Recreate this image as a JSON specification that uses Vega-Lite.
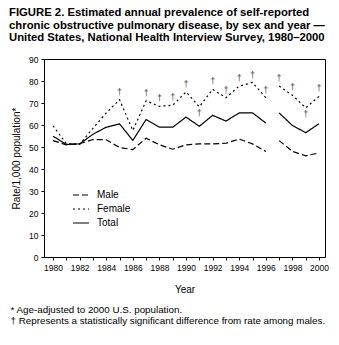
{
  "$schema": "https://vega.github.io/schema/vega-lite/v6.json",
  "background": "white",
  "padding": {"left": 9, "top": 7, "right": 5, "bottom": 5},
  "config": {
    "font": "Liberation Sans",
    "view": {"stroke": "black", "strokeWidth": 1},
    "axis": {"grid": false, "domainColor": "black", "tickColor": "black", "labelColor": "black", "titleColor": "black", "labelFont": "Liberation Sans", "titleFont": "Liberation Sans"}
  },
  "title": {
    "text": ["FIGURE 2. Estimated annual prevalence of self-reported", "chronic obstructive pulmonary disease, by sex and year —", "United States, National Health Interview Survey, 1980–2000"],
    "anchor": "start",
    "frame": "bounds",
    "fontSize": 11.3,
    "fontWeight": "bold",
    "lineHeight": 12.5,
    "font": "Liberation Sans",
    "color": "black",
    "dx": -1,
    "offset": 11
  },
  "datasets": {
    "rates": [
      {"year": 1980, "sex": "Male", "rate": 52.9, "period": "a"},
      {"year": 1981, "sex": "Male", "rate": 51.0, "period": "a"},
      {"year": 1982, "sex": "Male", "rate": 51.5, "period": "a"},
      {"year": 1983, "sex": "Male", "rate": 53.4, "period": "a"},
      {"year": 1984, "sex": "Male", "rate": 53.3, "period": "a"},
      {"year": 1985, "sex": "Male", "rate": 49.8, "period": "a"},
      {"year": 1986, "sex": "Male", "rate": 48.8, "period": "a"},
      {"year": 1987, "sex": "Male", "rate": 54.0, "period": "a"},
      {"year": 1988, "sex": "Male", "rate": 51.0, "period": "a"},
      {"year": 1989, "sex": "Male", "rate": 49.0, "period": "a"},
      {"year": 1990, "sex": "Male", "rate": 51.0, "period": "a"},
      {"year": 1991, "sex": "Male", "rate": 51.4, "period": "a"},
      {"year": 1992, "sex": "Male", "rate": 51.4, "period": "a"},
      {"year": 1993, "sex": "Male", "rate": 51.7, "period": "a"},
      {"year": 1994, "sex": "Male", "rate": 53.6, "period": "a"},
      {"year": 1995, "sex": "Male", "rate": 51.4, "period": "a"},
      {"year": 1996, "sex": "Male", "rate": 48.0, "period": "a"},
      {"year": 1997, "sex": "Male", "rate": 52.9, "period": "b"},
      {"year": 1998, "sex": "Male", "rate": 48.0, "period": "b"},
      {"year": 1999, "sex": "Male", "rate": 46.0, "period": "b"},
      {"year": 2000, "sex": "Male", "rate": 47.3, "period": "b"},
      {"year": 1980, "sex": "Female", "rate": 59.6, "period": "a", "sig": "no"},
      {"year": 1981, "sex": "Female", "rate": 51.5, "period": "a", "sig": "no"},
      {"year": 1982, "sex": "Female", "rate": 51.2, "period": "a", "sig": "no"},
      {"year": 1983, "sex": "Female", "rate": 58.5, "period": "a", "sig": "no"},
      {"year": 1984, "sex": "Female", "rate": 65.5, "period": "a", "sig": "no"},
      {"year": 1985, "sex": "Female", "rate": 71.5, "period": "a", "sig": "above"},
      {"year": 1986, "sex": "Female", "rate": 57.5, "period": "a", "sig": "no"},
      {"year": 1987, "sex": "Female", "rate": 71.0, "period": "a", "sig": "above"},
      {"year": 1988, "sex": "Female", "rate": 68.5, "period": "a", "sig": "above"},
      {"year": 1989, "sex": "Female", "rate": 69.0, "period": "a", "sig": "above"},
      {"year": 1990, "sex": "Female", "rate": 75.0, "period": "a", "sig": "above"},
      {"year": 1991, "sex": "Female", "rate": 68.3, "period": "a", "sig": "below"},
      {"year": 1992, "sex": "Female", "rate": 76.2, "period": "a", "sig": "above"},
      {"year": 1993, "sex": "Female", "rate": 72.4, "period": "a", "sig": "above"},
      {"year": 1994, "sex": "Female", "rate": 77.7, "period": "a", "sig": "above"},
      {"year": 1995, "sex": "Female", "rate": 79.3, "period": "a", "sig": "above"},
      {"year": 1996, "sex": "Female", "rate": 72.4, "period": "a", "sig": "above"},
      {"year": 1997, "sex": "Female", "rate": 77.7, "period": "b", "sig": "above"},
      {"year": 1998, "sex": "Female", "rate": 73.5, "period": "b", "sig": "above"},
      {"year": 1999, "sex": "Female", "rate": 67.8, "period": "b", "sig": "below"},
      {"year": 2000, "sex": "Female", "rate": 73.0, "period": "b", "sig": "above"},
      {"year": 1980, "sex": "Total", "rate": 54.9, "period": "a"},
      {"year": 1981, "sex": "Total", "rate": 51.2, "period": "a"},
      {"year": 1982, "sex": "Total", "rate": 51.4, "period": "a"},
      {"year": 1983, "sex": "Total", "rate": 55.8, "period": "a"},
      {"year": 1984, "sex": "Total", "rate": 59.0, "period": "a"},
      {"year": 1985, "sex": "Total", "rate": 60.5, "period": "a"},
      {"year": 1986, "sex": "Total", "rate": 53.0, "period": "a"},
      {"year": 1987, "sex": "Total", "rate": 62.5, "period": "a"},
      {"year": 1988, "sex": "Total", "rate": 59.0, "period": "a"},
      {"year": 1989, "sex": "Total", "rate": 59.0, "period": "a"},
      {"year": 1990, "sex": "Total", "rate": 63.6, "period": "a"},
      {"year": 1991, "sex": "Total", "rate": 59.4, "period": "a"},
      {"year": 1992, "sex": "Total", "rate": 64.4, "period": "a"},
      {"year": 1993, "sex": "Total", "rate": 61.8, "period": "a"},
      {"year": 1994, "sex": "Total", "rate": 65.5, "period": "a"},
      {"year": 1995, "sex": "Total", "rate": 65.5, "period": "a"},
      {"year": 1996, "sex": "Total", "rate": 60.9, "period": "a"},
      {"year": 1997, "sex": "Total", "rate": 65.5, "period": "b"},
      {"year": 1998, "sex": "Total", "rate": 59.8, "period": "b"},
      {"year": 1999, "sex": "Total", "rate": 56.5, "period": "b"},
      {"year": 2000, "sex": "Total", "rate": 60.6, "period": "b"}
    ]
  },
  "vconcat": [
    {
      "width": 281,
      "height": 198,
      "title": {
        "text": ["* Age-adjusted to 2000 U.S. population.", "† Represents a statistically significant difference from rate among males."],
        "orient": "bottom",
        "anchor": "start",
        "frame": "bounds",
        "fontSize": 9.8,
        "fontWeight": "normal",
        "lineHeight": 11,
        "font": "Liberation Sans",
        "color": "black",
        "dx": -1,
        "offset": 10
      },
      "data": {"name": "rates"},
      "encoding": {
        "x": {
          "field": "year", "type": "quantitative",
          "scale": {"domain": [1979.32, 2000.45], "nice": false, "zero": false},
          "axis": {
            "title": "Year", "titleFontSize": 10, "titleFontWeight": "normal", "titlePadding": 13,
            "values": [1980,1981,1982,1983,1984,1985,1986,1987,1988,1989,1990,1991,1992,1993,1994,1995,1996,1997,1998,1999,2000],
            "labelExpr": "datum.value % 2 === 0 ? datum.label : ''",
            "format": "d", "labelFontSize": 8.5, "tickSize": 3, "labelPadding": 3, "labelFlush": false, "labelOverlap": false
          }
        },
        "y": {
          "field": "rate", "type": "quantitative",
          "scale": {"domain": [0, 90], "nice": false},
          "axis": {
            "title": "Rate/1,000 population*", "titleFontSize": 10, "titleFontWeight": "normal", "titlePadding": 7,
            "values": [0,10,20,30,40,50,60,70,80,90], "labelFontSize": 8.5, "tickSize": 3, "labelPadding": 3
          }
        }
      },
      "layer": [
        {
          "mark": {"type": "line", "color": "black", "strokeWidth": 1.2},
          "encoding": {
            "strokeDash": {
              "field": "sex", "type": "nominal",
              "scale": {"domain": ["Male", "Female", "Total"], "range": [[6, 3], [2, 3], [1, 0]]},
              "legend": {
                "title": null, "orient": "none", "legendX": 28, "legendY": 127,
                "symbolType": "stroke", "symbolSize": 256, "symbolStrokeWidth": 1.2, "symbolStrokeColor": "black",
                "labelFontSize": 10, "labelColor": "black", "labelOffset": 7, "rowPadding": -2.5, "padding": 0, "labelFont": "Liberation Sans"
              }
            },
            "detail": {"field": "period"}
          }
        },
        {
          "transform": [{"filter": "datum.sig === 'above'"}],
          "mark": {"type": "text", "text": "†", "fontSize": 9, "dy": -8, "color": "#444", "baseline": "middle"}
        },
        {
          "transform": [{"filter": "datum.sig === 'below'"}],
          "mark": {"type": "text", "text": "†", "fontSize": 9, "dy": 6, "color": "#444", "baseline": "middle"}
        }
      ]
    }
  ]
}
